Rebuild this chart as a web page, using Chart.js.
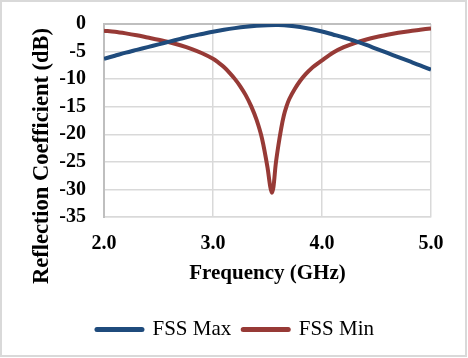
<!DOCTYPE html>
<html>
<head>
<meta charset="utf-8">
<script src="https://cdn.jsdelivr.net/npm/chart.js@4"></script>
<style>
  html, body { margin: 0; padding: 0; background: #fff; }
  #wrap { width: 468px; height: 358px; position: relative; }
</style>
</head>
<body>
<div id="wrap"><canvas id="reflChart"></canvas></div>
<script>
// Data
const freqMax = [2.0, 2.1, 2.2, 2.3, 2.4, 2.5, 2.6, 2.7, 2.8, 2.9, 3.0, 3.1, 3.2, 3.3, 3.4, 3.5,
                 3.6, 3.7, 3.8, 3.9, 4.0, 4.1, 4.2, 4.3, 4.4, 4.5, 4.6, 4.7, 4.8, 4.9, 5.0];
const dbMax   = [-6.3, -5.75, -5.2, -4.7, -4.2, -3.7, -3.2, -2.7, -2.2, -1.8, -1.4, -1.05, -0.75, -0.5, -0.32, -0.22,
                 -0.2, -0.3, -0.55, -0.9, -1.35, -1.9, -2.45, -3.05, -3.75, -4.5, -5.25, -6.0, -6.75, -7.5, -8.3];

const freqMin = [2.0, 2.1, 2.2, 2.3, 2.4, 2.5, 2.6, 2.7, 2.8, 2.9, 3.0, 3.05, 3.1, 3.15, 3.2, 3.25, 3.3, 3.35, 3.4, 3.45,
                 3.5, 3.525, 3.54, 3.555, 3.575, 3.6, 3.625, 3.65, 3.675, 3.7, 3.75, 3.8, 3.85, 3.9,
                 4.0, 4.1, 4.2, 4.3, 4.4, 4.5, 4.6, 4.7, 4.8, 4.9, 5.0];
const dbMin   = [-1.2, -1.4, -1.7, -2.05, -2.45, -2.85, -3.3, -3.85, -4.5, -5.3, -6.3, -7.0, -7.8, -8.8, -9.95, -11.3, -12.9, -14.9, -17.4, -20.8,
                 -26.0, -29.5, -30.6, -29.5, -25.5, -22.0, -19.0, -16.6, -14.9, -13.6, -11.8, -10.3, -9.1, -8.1,
                 -6.6, -5.2, -4.2, -3.45, -2.85, -2.35, -1.95, -1.6, -1.3, -1.05, -0.8];

const xTicks = [2, 3, 4, 5];
const yTicks = [0, -5, -10, -15, -20, -25, -30, -35];

const serif = '"Liberation Serif", "Times New Roman", serif';

// white background, outer frame and the rotated y title
const framePlugin = {
    id: 'frame',
    beforeDraw(chart) {
        const c = chart.ctx;
        c.save();
        c.fillStyle = '#fff';
        c.fillRect(0, 0, chart.width, chart.height);
        c.restore();
    },
    afterDraw(chart) {
        const c = chart.ctx;
        c.save();
        c.strokeStyle = '#d9d9d9';
        c.lineWidth = 2;
        c.strokeRect(1, 1, chart.width - 3, chart.height - 3);
        c.translate(42, 156);
        c.rotate(-Math.PI / 2);
        c.fillStyle = '#000';
        c.font = 'bold 22.5px ' + serif;
        c.textAlign = 'center';
        c.textBaseline = 'middle';
        c.fillText('Reflection Coefficient (dB)', 0, 0);
        c.restore();
    }
};

const ctx = document.getElementById('reflChart').getContext('2d');
const reflChart = new Chart(ctx, {
    type: 'line',
    data: {
        datasets: [
            {
                label: 'FSS Max',
                data: freqMax.map((f, i) => ({ x: f, y: dbMax[i] })),
                borderColor: '#1f4b7c',
                backgroundColor: '#1f4b7c',
                borderWidth: 4,
                pointRadius: 0,
                tension: 0.3
            },
            {
                label: 'FSS Min',
                data: freqMin.map((f, i) => ({ x: f, y: dbMin[i] })),
                borderColor: '#973a36',
                backgroundColor: '#973a36',
                borderWidth: 4,
                pointRadius: 0,
                tension: 0.3
            }
        ]
    },
    options: {
        responsive: true,
        maintainAspectRatio: false,
        animation: false,
        layout: { padding: { left: 40, right: 37, top: 24, bottom: 8 } },
        plugins: {
            tooltip: { enabled: false },
            legend: {
                position: 'bottom',
                labels: {
                    usePointStyle: true,
                    pointStyle: 'line',
                    pointStyleWidth: 45,
                    color: '#000',
                    padding: 12,
                    font: { family: serif, size: 21 },
                    generateLabels: chart => Chart.defaults.plugins.legend.labels.generateLabels(chart)
                        .map(l => ({ ...l, lineWidth: 5, lineCap: 'round' }))
                }
            }
        },
        scales: {
            x: {
                type: 'linear',
                min: 2, max: 5,
                afterBuildTicks: s => { s.ticks = xTicks.map(v => ({ value: v })); },
                afterFit: s => { s.height = 90; s.paddingLeft = 0; s.paddingRight = 0; },
                border: { color: '#d9d9d9', width: 1.5 },
                grid: {
                    drawTicks: false,
                    color: c => c.tick.value === 2 ? 'rgba(0,0,0,0)' : '#d9d9d9',
                    lineWidth: 1.5
                },
                ticks: {
                    autoSkip: false,
                    maxRotation: 0,
                    padding: 15,
                    color: '#000',
                    font: { family: serif, size: 20, weight: 'bold' },
                    callback: v => v.toFixed(1)
                },
                title: {
                    display: true,
                    text: 'Frequency (GHz)',
                    color: '#000',
                    padding: { top: 0, bottom: 21 },
                    font: { family: serif, size: 21, weight: 'bold' }
                }
            },
            y: {
                min: -35, max: 0,
                afterBuildTicks: s => { s.ticks = yTicks.map(v => ({ value: v })); },
                afterFit: s => { s.width = 64; s.paddingTop = 0; s.paddingBottom = 0; },
                border: { color: '#bfbfbf', width: 2 },
                grid: {
                    drawTicks: false,
                    color: c => c.tick.value === 0 ? '#bfbfbf' : '#d9d9d9',
                    lineWidth: c => c.tick.value === 0 ? 2 : 1.5
                },
                ticks: {
                    autoSkip: false,
                    padding: 18,
                    color: '#000',
                    font: { family: serif, size: 20, weight: 'bold' }
                }
            }
        }
    },
    plugins: [framePlugin]
});
</script>
</body>
</html>
